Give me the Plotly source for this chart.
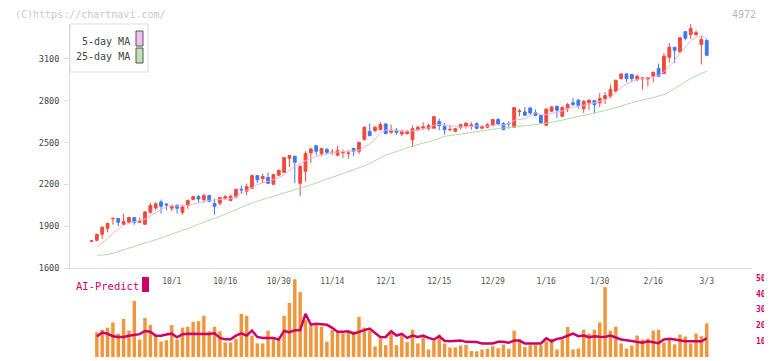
import plotly.graph_objects as go

# ---------------- data ----------------
tick_labels = ["10/1", "10/16", "10/30", "11/14", "12/1", "12/15", "12/29", "1/16", "1/30", "2/16", "3/3"]
tick_index = [15, 25, 35, 45, 55, 65, 75, 85, 95, 105, 115]
price_ticks = [1600, 1900, 2200, 2500, 2800, 3100]
volume_ticks = [0, 10, 20, 30, 40, 50]

open_ = [1792, 1799, 1842, 1885, 1953, 1955, 1914, 1928, 1962, 1928,
         1914, 2000, 2031, 2074, 2060, 2029, 2050, 2000, 2048, 2093,
         2112, 2091, 2120, 2062, 2065, 2100, 2084, 2110, 2165, 2151,
         2172, 2263, 2242, 2249, 2201, 2266, 2287, 2388, 2402, 2208,
         2294, 2426, 2478, 2421, 2450, 2428, 2409, 2427, 2422, 2457,
         2438, 2521, 2581, 2586, 2593, 2634, 2574, 2588, 2562, 2564,
         2521, 2593, 2605, 2600, 2603, 2651, 2615, 2592, 2581, 2610,
         2617, 2617, 2636, 2603, 2610, 2624, 2665, 2636, 2637, 2610,
         2723, 2720, 2749, 2715, 2694, 2624, 2725, 2761, 2689, 2744,
         2785, 2804, 2744, 2785, 2801, 2785, 2813, 2833, 2868, 2959,
         2993, 2988, 2952, 2957, 2957, 2976, 3031, 2995, 3112, 3184,
         3151, 3296, 3275, 3275, 3203, 3232]
high = [1796, 1847, 1900, 1926, 1962, 1957, 1990, 1967, 1964, 1962,
        2010, 2067, 2072, 2091, 2062, 2055, 2057, 2055, 2091, 2115,
        2124, 2134, 2122, 2098, 2110, 2122, 2127, 2172, 2191, 2206,
        2270, 2265, 2277, 2287, 2277, 2306, 2397, 2409, 2404, 2340,
        2438, 2462, 2480, 2462, 2462, 2454, 2478, 2450, 2445, 2464,
        2507, 2617, 2636, 2617, 2648, 2636, 2629, 2605, 2593, 2590,
        2622, 2622, 2646, 2636, 2689, 2672, 2641, 2624, 2605, 2634,
        2646, 2646, 2646, 2622, 2641, 2672, 2677, 2648, 2653, 2753,
        2741, 2756, 2751, 2737, 2696, 2744, 2760, 2763, 2761, 2785,
        2820, 2813, 2804, 2809, 2804, 2856, 2861, 2916, 2952, 2995,
        2995, 2990, 2988, 2968, 2966, 3005, 3067, 3143, 3215, 3186,
        3256, 3298, 3354, 3306, 3268, 3244]
low = [1791, 1792, 1809, 1856, 1912, 1900, 1909, 1923, 1911, 1923,
       1911, 1990, 2014, 1990, 2014, 2007, 1990, 1983, 2024, 2086,
       2072, 2067, 2072, 1983, 2048, 2088, 2079, 2100, 2134, 2122,
       2170, 2210, 2210, 2206, 2199, 2258, 2282, 2325, 2210, 2115,
       2222, 2354, 2409, 2402, 2414, 2411, 2402, 2390, 2385, 2402,
       2416, 2517, 2545, 2574, 2588, 2562, 2562, 2557, 2545, 2558,
       2466, 2581, 2593, 2588, 2600, 2588, 2557, 2581, 2576, 2593,
       2600, 2593, 2593, 2598, 2603, 2617, 2624, 2593, 2600, 2605,
       2689, 2694, 2696, 2689, 2639, 2620, 2720, 2677, 2682, 2720,
       2765, 2744, 2713, 2732, 2708, 2756, 2777, 2818, 2866, 2952,
       2933, 2933, 2940, 2880, 2904, 2933, 2971, 2995, 3072, 3072,
       3143, 3234, 3244, 3263, 3060, 3120]
close = [1795, 1840, 1892, 1919, 1956, 1928, 1933, 1962, 1928, 1936,
         2002, 2048, 2060, 2043, 2053, 2043, 2029, 2041, 2084, 2112,
         2096, 2120, 2079, 2043, 2105, 2112, 2115, 2163, 2161, 2184,
         2263, 2234, 2256, 2208, 2270, 2301, 2392, 2407, 2359, 2328,
         2421, 2454, 2438, 2457, 2430, 2431, 2442, 2429, 2425, 2438,
         2500, 2610, 2550, 2610, 2629, 2564, 2588, 2572, 2581, 2581,
         2600, 2610, 2612, 2622, 2686, 2622, 2593, 2595, 2600, 2629,
         2639, 2627, 2603, 2617, 2629, 2665, 2634, 2593, 2635, 2751,
         2726, 2696, 2713, 2696, 2641, 2741, 2756, 2732, 2753, 2773,
         2773, 2768, 2797, 2804, 2773, 2816, 2837, 2880, 2947, 2993,
         2959, 2959, 2976, 2964, 2964, 3005, 2976, 3120, 3184, 3163,
         3253, 3249, 3318, 3289, 3239, 3127]

ma5 = [None, 1753, 1780, 1810, 1850, 1878, 1905, 1922, 1930, 1938,
       1950, 1975, 1998, 2020, 2040, 2046, 2045, 2043, 2049, 2058,
       2068, 2080, 2086, 2088, 2090, 2092, 2098, 2112, 2133, 2158,
       2180, 2198, 2210, 2220, 2234, 2248, 2270, 2300, 2330, 2350,
       2372, 2388, 2400, 2410, 2418, 2428, 2433, 2434, 2436, 2440,
       2446, 2468, 2490, 2525, 2568, 2590, 2588, 2585, 2580, 2580,
       2584, 2588, 2596, 2604, 2625, 2630, 2625, 2620, 2615, 2612,
       2614, 2618, 2620, 2618, 2618, 2624, 2628, 2626, 2634, 2660,
       2666, 2672, 2690, 2714, 2700, 2702, 2710, 2716, 2726, 2745,
       2756, 2760, 2766, 2776, 2784, 2795, 2808, 2826, 2860, 2895,
       2920, 2940, 2952, 2958, 2962, 2972, 2980, 3008, 3050, 3088,
       3140, 3190, 3232, 3255, 3265, 3246]
ma25 = [None, 1691, 1691, 1696, 1706, 1718, 1730, 1740, 1750, 1762,
        1774, 1787, 1801, 1815, 1829, 1842, 1855, 1868, 1882, 1898,
        1914, 1930, 1944, 1957, 1971, 1985, 2000, 2018, 2036, 2052,
        2066, 2080, 2092, 2103, 2114, 2126, 2138, 2150, 2159, 2170,
        2182, 2196, 2210, 2225, 2238, 2251, 2264, 2277, 2289, 2302,
        2316, 2333, 2350, 2370, 2392, 2410, 2422, 2437, 2450, 2462,
        2474, 2488, 2497, 2505, 2515, 2531, 2545, 2550, 2555, 2560,
        2566, 2572, 2578, 2584, 2590, 2596, 2601, 2606, 2610, 2614,
        2618, 2621, 2624, 2628, 2633, 2639, 2645, 2653, 2661, 2669,
        2677, 2686, 2694, 2703, 2712, 2721, 2730, 2740, 2750, 2762,
        2774, 2786, 2797, 2806, 2815, 2823, 2832, 2845, 2865, 2888,
        2913, 2939, 2960, 2978, 2995, 3012]

volume = [None, 15.7, 17.3, 18.6, 21.9, 14.8, 24.2, 16.7, 35.4, 11.1,
          24.8, 20.4, 13.2, 9.8, 10.6, 20.2, 11.1, 18.6, 19.2, 22.3,
          22.7, 26.1, 16.3, 19.2, 16.3, 9.2, 9.2, 11.5, 27.3, 26.1,
          13.6, 8.6, 8.6, 16.7, 12.7, 11.1, 26.1, 34.2, 49.2, 41.1,
          23.3, 19.8, 21.5, 19.2, 9.8, 17.3, 15.7, 15.0, 15.7, 16.3,
          25.4, 18.6, 16.7, 6.7, 11.5, 7.5, 14.8, 7.5, 13.2, 9.4,
          17.3, 8.6, 12.7, 4.8, 10.4, 14.2, 8.6, 6.1, 6.1, 7.3,
          7.7, 3.8, 3.6, 4.8, 5.2, 6.9, 5.6, 7.9, 5.2, 16.7,
          11.1, 6.3, 7.5, 7.7, 7.5, 10.0, 11.5, 4.8, 11.1, 19.0,
          4.8, 5.4, 17.3, 14.8, 17.3, 21.9, 44.2, 16.7, 19.2, 8.6,
          5.4, 7.3, 13.6, 11.1, 11.7, 16.7, 17.3, 9.2, 11.1, 8.0,
          14.2, 13.0, 8.6, 14.8, 13.2, 21.3]
ai_predict = [None, 13.0, 15.5, 14.7, 13.2, 12.7, 12.7, 13.5, 13.8, 14.5,
              16.5, 16.0, 13.5, 13.5, 14.2, 14.8, 12.5, 14.5, 14.8, 14.8,
              14.8, 14.5, 14.6, 15.0, 12.1, 11.2, 11.3, 13.5, 15.0, 13.6,
              16.7, 12.7, 12.1, 12.1, 12.1, 11.1, 16.5, 15.7, 16.9, 16.9,
              27.3, 20.5, 21.1, 20.8, 20.4, 18.5, 16.0, 16.0, 16.3, 14.8,
              15.7, 17.0, 18.0, 15.2, 12.5, 12.7, 16.3, 13.6, 14.6, 12.1,
              13.6, 12.7, 13.6, 12.1, 11.1, 13.2, 10.3, 10.0, 10.0, 10.4,
              9.6, 9.4, 9.5, 8.6, 8.6, 8.6, 9.6, 9.6, 9.0, 10.4,
              10.4, 8.6, 8.6, 8.6, 8.6, 11.9, 10.0, 11.5, 12.1, 13.5,
              14.8, 13.2, 13.6, 12.5, 13.2, 12.9, 12.7, 13.6, 12.1, 11.1,
              10.6, 10.0, 9.4, 9.0, 10.0, 9.5, 8.8, 11.1, 11.5, 11.1,
              10.5, 10.0, 10.0, 10.0, 10.0, 11.9]

idx = list(range(len(close)))

# ---------------- geometry / style ----------------
# The page body adds an 8 px margin, so the figure is drawn 8 px in from the
# window's top-left corner; the figure is sized so it ends at the window edge.
PAGE_W, PAGE_H, OFF = 772, 361, 8
W, H = PAGE_W - OFF, PAGE_H - OFF
PLOT_L, PLOT_R, PLOT_T, PLOT_B = 70, 752, 24, 358      # page pixels
ML, MR, MT, MB = PLOT_L - OFF, PAGE_W - PLOT_R, PLOT_T - OFF, PAGE_H - PLOT_B
PW, PH = W - ML - MR, H - MT - MB


def px(x):
    return (x - PLOT_L) / PW


def py(y):
    return (PLOT_B - y) / PH


XR = [-4.02, 123.46]
FONT = "DejaVu Sans Mono"
RED, BLUE = "#f04a3a", "#3c78f0"
AXC = "#dddddd"
CRIMSON = "#cc0066"

fig = go.Figure()

fig.add_trace(go.Scatter(x=idx, y=ma25, mode="lines", line=dict(color="#b5dba5", width=1),
                         hoverinfo="skip", xaxis="x", yaxis="y"))
fig.add_trace(go.Scatter(x=idx, y=ma5, mode="lines", line=dict(color="#e8b4e8", width=1),
                         hoverinfo="skip", xaxis="x", yaxis="y"))
fig.add_trace(go.Candlestick(
    x=idx, open=open_, high=high, low=low, close=close,
    increasing=dict(line=dict(color=RED, width=1), fillcolor=RED),
    decreasing=dict(line=dict(color=BLUE, width=1), fillcolor=BLUE),
    whiskerwidth=0, hoverinfo="skip", xaxis="x", yaxis="y"))

fig.add_trace(go.Bar(x=idx, y=volume, marker=dict(color="#f0963c", line=dict(width=0)),
                     hoverinfo="skip", xaxis="x2", yaxis="y2"))
fig.add_trace(go.Scatter(x=idx, y=ai_predict, mode="lines", line=dict(color=CRIMSON, width=2.5),
                         hoverinfo="skip", xaxis="x2", yaxis="y2"))

main_bottom = py(268)
vol_top = py(278)

fig.update_layout(
    width=W, height=H, margin=dict(l=ML, r=MR, t=MT, b=MB, autoexpand=False),
    paper_bgcolor="white", plot_bgcolor="white", showlegend=False,
    bargap=0.35, boxgap=0.25,
    font=dict(family=FONT, size=8, color="#555555"),
    xaxis=dict(domain=[0, 1], anchor="y", range=XR, tickmode="array",
               tickvals=tick_index, ticktext=tick_labels, ticks="",
               showline=True, linecolor=AXC, linewidth=1, showgrid=False, zeroline=False,
               rangeslider=dict(visible=False), ticklabelstandoff=5, automargin=False,
               tickfont=dict(family=FONT, size=8, color="#555555")),
    xaxis3=dict(overlaying="x", anchor="free", position=py(272), range=XR,
                tickmode="linear", tick0=-4.015, dtick=11.589, ticks="inside", ticklen=7,
                tickcolor=AXC, tickwidth=1, showticklabels=False, showline=False,
                showgrid=False, zeroline=False, automargin=False),
    yaxis=dict(domain=[main_bottom, 1], anchor="x", range=[1600, 3351],
               tickmode="array", tickvals=price_ticks, ticks="outside", ticklen=5,
               tickcolor=AXC, showline=True, linecolor=AXC, linewidth=1,
               showgrid=False, zeroline=False, automargin=False, ticklabelstandoff=3,
               tickfont=dict(family=FONT, size=8.5, color="#444444")),
    xaxis2=dict(domain=[0, 1], anchor="y2", range=XR, visible=False, automargin=False),
    yaxis2=dict(domain=[0, vol_top], anchor="x2", side="right", range=[-0.6, 50],
                tickmode="array", tickvals=volume_ticks, ticks="", showline=False,
                showgrid=False, zeroline=False, automargin=False, ticklabelstandoff=3,
                tickfont=dict(family=FONT, size=8, color=CRIMSON, weight="bold")),
)

# ---------------- decorations ----------------
shapes = [
    dict(type="rect", xref="paper", yref="paper", x0=px(70), x1=px(148), y0=py(72), y1=py(24),
         line=dict(color=AXC, width=1), fillcolor="white", layer="above"),
    dict(type="rect", xref="paper", yref="paper", x0=px(136), x1=px(143), y0=py(46), y1=py(31),
         line=dict(color="#555555", width=1), fillcolor="#f0c0f0", layer="above"),
    dict(type="rect", xref="paper", yref="paper", x0=px(136), x1=px(143), y0=py(63), y1=py(48),
         line=dict(color="#555555", width=1), fillcolor="#c0e0b4", layer="above"),
    dict(type="rect", xref="paper", yref="paper", x0=px(142), x1=px(149), y0=py(292), y1=py(277),
         line=dict(width=0), fillcolor=CRIMSON, layer="above"),
]
annotations = [
    dict(text="(C)https://chartnavi.com/", x=px(14), y=py(8), xanchor="left", yanchor="top",
         font=dict(family=FONT, size=10, color="#c8c8c8")),
    dict(text="4972", x=px(757), y=py(8), xanchor="right", yanchor="top",
         font=dict(family=FONT, size=10, color="#b4b4b4")),
    dict(text="5-day MA", x=px(131), y=py(41), xanchor="right", yanchor="middle",
         font=dict(family=FONT, size=10, color="#444444")),
    dict(text="25-day MA", x=px(131), y=py(57), xanchor="right", yanchor="middle",
         font=dict(family=FONT, size=10, color="#444444")),
    dict(text="AI-Predict", x=px(75), y=py(286), xanchor="left", yanchor="middle",
         font=dict(family=FONT, size=10.5, color=CRIMSON)),
]
for a in annotations:
    a.update(xref="paper", yref="paper", showarrow=False, borderpad=0)
fig.update_layout(shapes=shapes, annotations=annotations)

fig.write_html("out.html")
